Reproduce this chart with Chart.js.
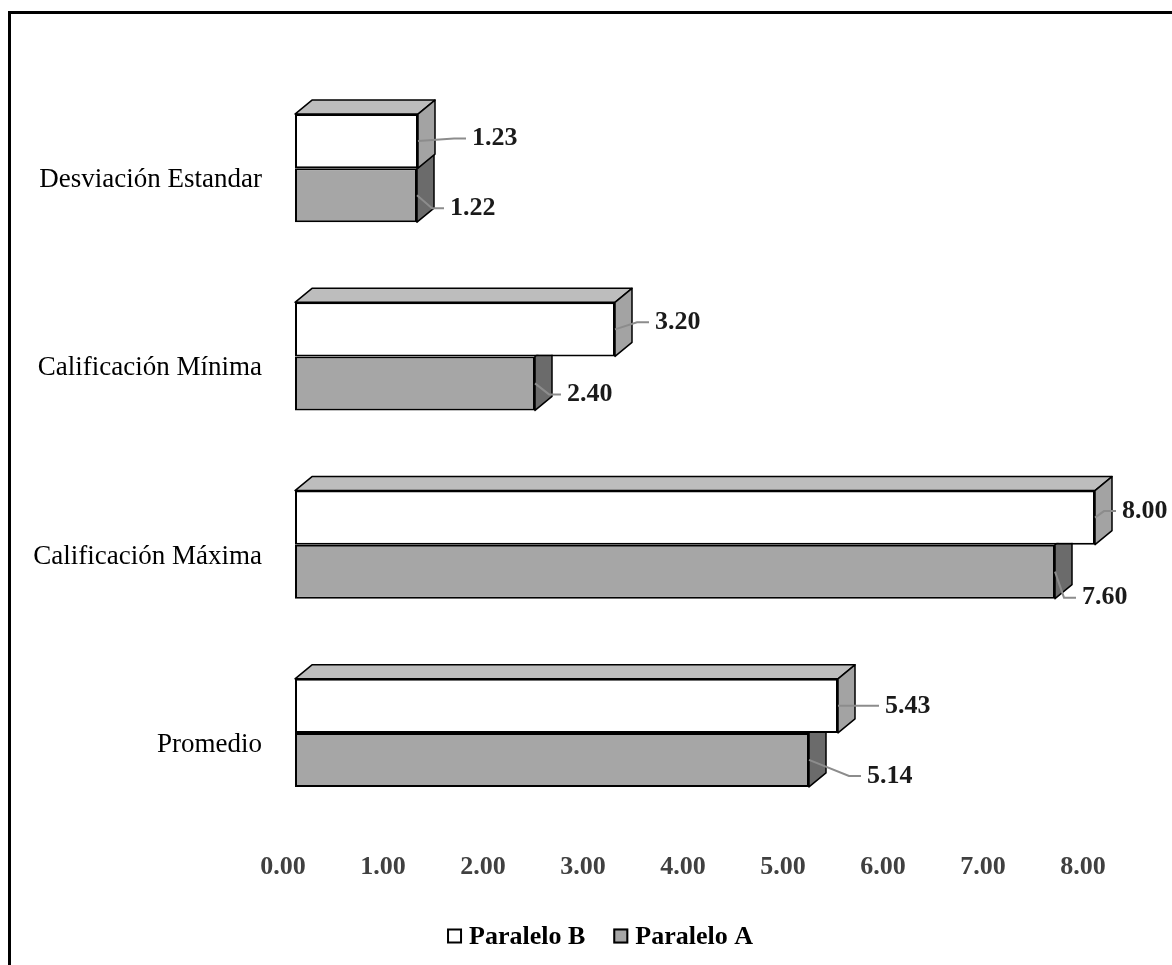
<!DOCTYPE html>
<html>
<head>
<meta charset="utf-8">
<title>Paralelo A y B</title>
<script src="https://cdn.jsdelivr.net/npm/chart.js@4.4.1/dist/chart.umd.min.js"></script>
<style>
  html, body { margin: 0; padding: 0; background: #ffffff; }
  canvas { display: block; }
</style>
</head>
<body>
<canvas id="chart" width="1172" height="965"></canvas>
<script>
// Categories, listed top to bottom
const categories = ['Desviación Estandar', 'Calificación Mínima', 'Calificación Máxima', 'Promedio'];
// Series values
const paraleloB = [1.23, 3.20, 8.00, 5.43];
const paraleloA = [1.22, 2.40, 7.60, 5.14];
const seriesNames = ['Paralelo B', 'Paralelo A'];
// Value axis range and tick step
const axisMin = 0;
const axisMax = 8;
const axisStep = 1;

const SERIF = '"Liberation Serif", "Times New Roman", serif';
const FRONT_COLORS = ['#ffffff', '#a6a6a6'];
const SIDE_COLORS = ['#a3a3a3', '#6b6b6b'];
const TOP_COLOR = '#bdbdbd';

// Extruded look: side and top faces behind each bar front
const bar3d = {
  id: 'bar3d',
  beforeDatasetsDraw(chart, args, opts) {
    const ctx = chart.ctx;
    const dx = opts.dx, dy = opts.dy;
    for (let d = chart.data.datasets.length - 1; d >= 0; d--) {
      const meta = chart.getDatasetMeta(d);
      meta.data.forEach((el) => {
        const p = el.getProps(['x', 'y', 'base', 'height'], true);
        const top = p.y - p.height / 2, bot = p.y + p.height / 2;
        ctx.save();
        ctx.lineWidth = 1.5;
        ctx.strokeStyle = '#000';
        ctx.lineJoin = 'round';
        if (d === 0) {
          ctx.beginPath();
          ctx.moveTo(p.base, top);
          ctx.lineTo(p.base + dx, top - dy);
          ctx.lineTo(p.x + dx, top - dy);
          ctx.lineTo(p.x, top);
          ctx.closePath();
          ctx.fillStyle = TOP_COLOR;
          ctx.fill();
          ctx.stroke();
        }
        ctx.beginPath();
        ctx.moveTo(p.x, top);
        ctx.lineTo(p.x + dx, top - dy);
        ctx.lineTo(p.x + dx, bot - dy);
        ctx.lineTo(p.x, bot);
        ctx.closePath();
        ctx.fillStyle = SIDE_COLORS[d];
        ctx.fill();
        ctx.stroke();
        ctx.restore();
      });
    }
  }
};

// Value labels with leader lines
const valueLabels = {
  id: 'valueLabels',
  afterDatasetsDraw(chart, args, opts) {
    const ctx = chart.ctx;
    chart.data.datasets.forEach((ds, d) => {
      const meta = chart.getDatasetMeta(d);
      meta.data.forEach((el, i) => {
        const p = el.getProps(['x', 'y'], true);
        const shift = opts.shift[d][i];
        const tx = p.x + shift[0];
        const ty = p.y + shift[1];
        ctx.save();
        ctx.strokeStyle = '#8c8c8c';
        ctx.lineWidth = 2;
        ctx.beginPath();
        ctx.moveTo(p.x, p.y);
        ctx.lineTo(Math.max(p.x + 2, tx - 18), ty);
        ctx.lineTo(tx - 6, ty);
        ctx.stroke();
        ctx.fillStyle = '#1a1a1a';
        ctx.font = 'bold 26px ' + SERIF;
        ctx.textAlign = 'left';
        ctx.textBaseline = 'middle';
        ctx.fillText(ds.data[i].toFixed(2), tx, ty);
        ctx.restore();
      });
    });
  }
};

// Legend row and outer frame
const frameAndLegend = {
  id: 'frameAndLegend',
  beforeDraw(chart) {
    const ctx = chart.ctx;
    ctx.save();
    ctx.fillStyle = '#ffffff';
    ctx.fillRect(0, 0, chart.width, chart.height);
    ctx.restore();
  },
  afterDraw(chart, args, opts) {
    const ctx = chart.ctx;
    ctx.save();
    ctx.font = 'bold 26px ' + SERIF;
    ctx.textBaseline = 'middle';
    ctx.textAlign = 'left';
    const box = 15, gap = 7, spacing = 28;
    const items = chart.data.datasets.map((ds, d) => ({
      text: ds.label, color: FRONT_COLORS[d], w: box + gap + ctx.measureText(ds.label).width
    }));
    const total = items.reduce((s, it) => s + it.w, 0) + spacing * (items.length - 1);
    let x = opts.centerX - total / 2;
    const y = opts.y;
    items.forEach((it) => {
      ctx.fillStyle = it.color;
      ctx.fillRect(x, y - box / 2, box, box);
      ctx.lineWidth = 2;
      ctx.strokeStyle = '#000';
      ctx.strokeRect(x + 1, y - box / 2 + 1, box - 2, box - 2);
      ctx.fillStyle = '#000';
      ctx.fillText(it.text, x + box + gap, y + 1);
      x += it.w + spacing;
    });
    ctx.lineWidth = 3;
    ctx.strokeStyle = '#000';
    ctx.strokeRect(9.5, 12.5, chart.width + 20, chart.height + 20);
    ctx.restore();
  }
};

new Chart(document.getElementById('chart'), {
  type: 'bar',
  data: {
    labels: categories,
    datasets: [
      { label: seriesNames[0], data: paraleloB, backgroundColor: FRONT_COLORS[0], borderColor: '#000', borderWidth: 2, borderSkipped: false },
      { label: seriesNames[1], data: paraleloA, backgroundColor: FRONT_COLORS[1], borderColor: '#000', borderWidth: 2, borderSkipped: false }
    ]
  },
  options: {
    indexAxis: 'y',
    responsive: false,
    animation: false,
    devicePixelRatio: 1,
    categoryPercentage: 0.574,
    barPercentage: 1.0,
    layout: { padding: { left: 0, right: 77, top: 74, bottom: 78 } },
    scales: {
      x: {
        type: 'linear',
        min: axisMin,
        max: axisMax,
        afterFit(scale) { scale.height = 60; },
        grid: { display: false, drawTicks: false, tickLength: 0 },
        border: { display: false },
        ticks: {
          stepSize: axisStep,
          padding: 25,
          labelOffset: -12,
          color: '#404040',
          font: { family: SERIF, size: 26, weight: 'bold' },
          callback: (v) => Number(v).toFixed(2)
        }
      },
      y: {
        type: 'category',
        afterFit(scale) { scale.width = 295; },
        grid: { display: false, drawTicks: false, tickLength: 0 },
        border: { display: false },
        ticks: {
          padding: 33,
          labelOffset: 12,
          color: '#000',
          font: { family: SERIF, size: 27 }
        }
      }
    },
    plugins: {
      legend: { display: false },
      tooltip: { enabled: false },
      bar3d: { dx: 17, dy: 14 },
      valueLabels: {
        shift: [
          [[54, -2.5], [40, -7], [27, -6.5], [47, 0]],
          [[33, 13], [32, 11], [27, 26], [58, 16]]
        ]
      },
      frameAndLegend: { centerX: 600, y: 936 }
    }
  },
  plugins: [bar3d, valueLabels, frameAndLegend]
});
</script>
</body>
</html>
